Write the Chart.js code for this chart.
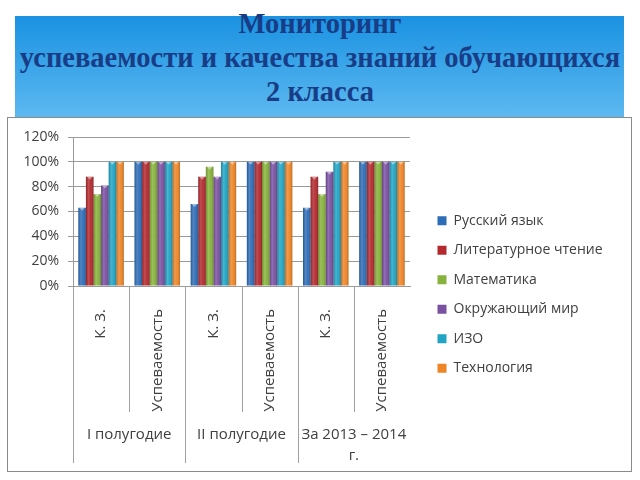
<!DOCTYPE html>
<html lang="ru">
<head>
<meta charset="utf-8">
<script src="https://cdn.jsdelivr.net/npm/chart.js@4.4.1/dist/chart.umd.min.js"></script>
<style>
  html, body { margin: 0; padding: 0; background: #fff; }
  body { width: 640px; height: 480px; position: relative; overflow: hidden; }
  .shapka { position: absolute; left: 15px; top: 16px; width: 609px; height: 102px;
            background: linear-gradient(#1a92e2, #5db9f0); }
  .zagolovok { position: absolute; left: 0; top: 7px; width: 640px; margin: 0;
               font: bold 28.5px/34px "Liberation Serif", serif; color: #183c86; text-align: center; }
  .ramka { position: absolute; left: 7px; top: 117px; width: 623px; height: 353px;
           border: 1px solid #8a8a8a; background: #fff; }
</style>
</head>
<body>
<div class="shapka"></div>
<h1 class="zagolovok">Мониторинг<br>успеваемости и качества знаний обучающихся<br>2 класса</h1>
<div class="ramka"><canvas id="grafik" width="623" height="353"></canvas></div>
<script>
const kategorii = ['К. З.', 'Успеваемость', 'К. З.', 'Успеваемость', 'К. З.', 'Успеваемость'];
const gruppy = [['I полугодие'], ['II полугодие'], ['За 2013 – 2014', 'г.']];
const predmety = ['Русский язык', 'Литературное чтение', 'Математика', 'Окружающий мир', 'ИЗО', 'Технология'];

const russkiy     = [63, 100, 66, 100, 63, 100];
const literatura  = [88, 100, 88, 100, 88, 100];
const matematika  = [74, 100, 96, 100, 74, 100];
const okruzhayush = [81, 100, 88, 100, 92, 100];
const izo         = [100, 100, 100, 100, 100, 100];
const tekhnologia = [100, 100, 100, 100, 100, 100];

const tsveta = ['#2d6cb6', '#b3292e', '#87b23b', '#7a50a1', '#21a4c4', '#ee8527'];
const shrift = '"Open Sans", sans-serif';

// ширина легенды, чтобы область графика кончалась там же, где в образце
const izm = document.createElement('canvas').getContext('2d');
izm.font = '14px ' + shrift;
const shirTeksta = Math.max(...predmety.map(p => izm.measureText(p).width));
const shirLegendy = 15.5 + (9 + 7 + shirTeksta) + 10;
const pravPadding = Math.max(0, 623 - 402 - 12 - shirLegendy);

const dannye = [russkiy, literatura, matematika, okruzhayush, izo, tekhnologia];

// блики на столбиках
const blikPlugin = {
  id: 'blik',
  afterDatasetsDraw(chart) {
    const ctx = chart.ctx;
    chart.getSortedVisibleDatasetMetas().forEach(meta => {
      meta.data.forEach(el => {
        const l = el.x - el.width / 2, r = el.x + el.width / 2;
        const g = ctx.createLinearGradient(l, 0, r, 0);
        g.addColorStop(0, 'rgba(0,0,0,0.18)');
        g.addColorStop(0.35, 'rgba(255,255,255,0.18)');
        g.addColorStop(0.6, 'rgba(255,255,255,0.05)');
        g.addColorStop(1, 'rgba(0,0,0,0.22)');
        ctx.save();
        ctx.fillStyle = g;
        ctx.fillRect(l, el.y, el.width, el.base - el.y);
        ctx.fillStyle = 'rgba(255,255,255,0.45)';
        ctx.beginPath();
        ctx.moveTo(l + 1, el.y);
        ctx.lineTo(r - 1, el.y);
        ctx.lineTo(el.x, el.y + 3);
        ctx.closePath();
        ctx.fill();
        ctx.restore();
      });
    });
  }
};

// двухуровневая подпись оси X
const gruppyPlugin = {
  id: 'gruppy',
  afterDraw(chart) {
    const ctx = chart.ctx, x = chart.scales.x, niz = chart.chartArea.bottom;
    const shag = x.getPixelForValue(1) - x.getPixelForValue(0);
    ctx.save();
    ctx.strokeStyle = '#a0a0a0';
    ctx.lineWidth = 1;
    kategorii.forEach((k, i) => {
      const lx = Math.round(x.getPixelForValue(i) - shag / 2) + 0.5;
      ctx.beginPath();
      ctx.moveTo(lx, niz);
      ctx.lineTo(lx, niz + (i % 2 === 0 ? 177 : 126));
      ctx.stroke();
    });
    ctx.fillStyle = '#404040';
    ctx.font = '15px ' + shrift;
    ctx.textAlign = 'center';
    ctx.textBaseline = 'middle';
    gruppy.forEach((g, j) => {
      const cx = (x.getPixelForValue(2 * j) + x.getPixelForValue(2 * j + 1)) / 2;
      g.forEach((s, n) => ctx.fillText(s, cx, niz + 149 + n * 21));
    });
    ctx.restore();
  }
};

new Chart(document.getElementById('grafik'), {
  type: 'bar',
  data: {
    labels: kategorii,
    datasets: predmety.map((p, i) => ({
      label: p,
      data: dannye[i],
      backgroundColor: tsveta[i],
      borderWidth: 0,
      categoryPercentage: 0.81,
      barPercentage: 1
    }))
  },
  options: {
    responsive: false,
    animation: false,
    layout: { padding: { top: 19, left: 8, right: pravPadding, bottom: 19 } },
    plugins: {
      title: { display: false },
      tooltip: { enabled: false },
      legend: {
        position: 'right',
        maxWidth: 400,
        labels: {
          boxWidth: 9,
          boxHeight: 9,
          padding: 15.5,
          color: '#404040',
          font: { family: shrift, size: 14 }
        }
      }
    },
    scales: {
      x: {
        grid: { display: false },
        border: { color: '#9a9a9a' },
        ticks: {
          minRotation: 90,
          maxRotation: 90,
          padding: 15,
          color: '#404040',
          font: { family: shrift, size: 15 }
        },
        afterFit: s => { s.height = 166; }
      },
      y: {
        min: 0,
        max: 120,
        grid: { color: '#9a9a9a', tickLength: 5 },
        border: { color: '#9a9a9a' },
        ticks: {
          stepSize: 20,
          padding: 9,
          color: '#404040',
          font: { family: shrift, size: 14 },
          callback: v => v + '%'
        },
        afterFit: s => { s.width = 57; }
      },
      zazor: {
        position: 'right',
        display: true,
        grid: { display: false },
        border: { display: false },
        ticks: { display: false },
        afterFit: s => { s.width = 12; }
      }
    }
  },
  plugins: [blikPlugin, gruppyPlugin]
});
</script>
</body>
</html>
